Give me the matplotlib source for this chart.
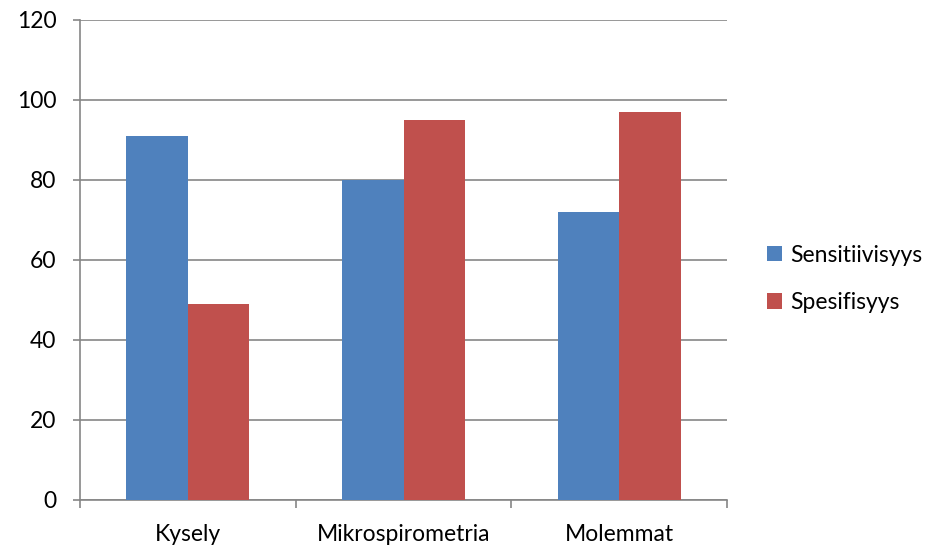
import matplotlib
matplotlib.use("Agg")
import matplotlib.pyplot as plt
import numpy as np

categories = ["Kysely", "Mikrospirometria", "Molemmat"]
sensitiivisyys = [91, 80, 72]
spesifisyys = [49, 95, 97]
series_names = ["Sensitiivisyys", "Spesifisyys"]
colors = ["#4F81BD", "#C0504D"]
y_ticks = [0, 20, 40, 60, 80, 100, 120]

plt.rcParams["font.family"] = ["Lato", "DejaVu Sans"]

fig = plt.figure(figsize=(9.33, 5.46), dpi=100)
ax = fig.add_axes([80 / 933, 1 - 500 / 546, (727 - 80) / 933, 480 / 546])

x = np.arange(len(categories)) + 0.5
w = 1 / 3.5
ax.bar(x - w / 2, sensitiivisyys, w, color=colors[0], label=series_names[0], zorder=3)
ax.bar(x + w / 2, spesifisyys, w, color=colors[1], label=series_names[1], zorder=3)

ax.set_xlim(0, 3)
ax.set_ylim(0, 120)
ax.set_yticks(y_ticks)
ax.yaxis.grid(True, color="#868686", linewidth=1.2, zorder=0)
ax.set_axisbelow(True)

for side in ["top", "right"]:
    ax.spines[side].set_visible(False)
ax.spines["left"].set_color("#868686")
ax.spines["bottom"].set_color("#868686")
ax.spines["left"].set_linewidth(1.2)
ax.spines["bottom"].set_linewidth(1.2)

ax.set_xticks([0, 1, 2, 3])
ax.set_xticklabels([])
ax.set_xticks(x, minor=True)
ax.set_xticklabels(categories, minor=True)
ax.tick_params(axis="x", which="major", length=6, width=1.2, color="#868686", direction="out")
ax.tick_params(axis="x", which="minor", length=0, pad=17, labelsize=16.5)
ax.tick_params(axis="y", length=5, width=1.2, color="#868686", pad=12, labelsize=16.5)

fig.legend(loc="center left", bbox_to_anchor=(767 / 933, 1 - 279 / 546),
           frameon=False, fontsize=16.5, handlelength=0.65, handleheight=0.65,
           handletextpad=0.35, labelspacing=1.15, borderpad=0, borderaxespad=0)

fig.savefig("out.png", dpi=100)
